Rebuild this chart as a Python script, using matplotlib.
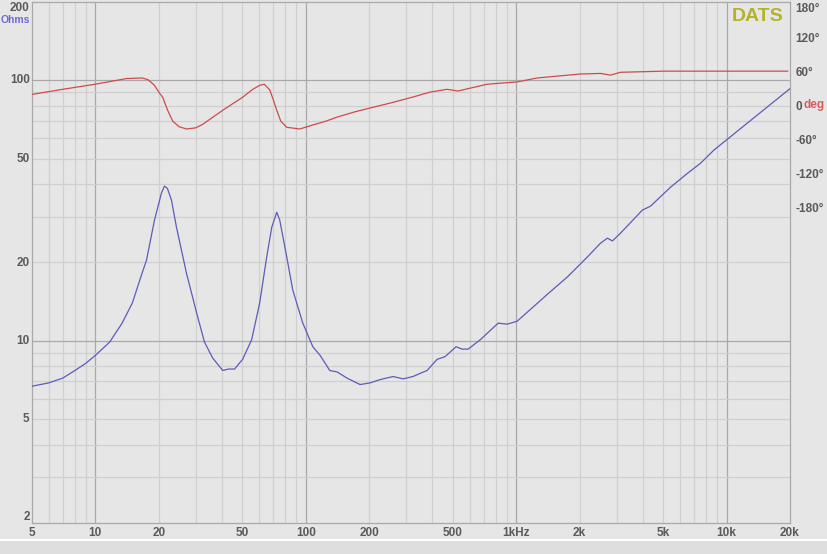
import numpy as np
import matplotlib
matplotlib.use("Agg")
import matplotlib.pyplot as plt
from matplotlib.patches import Rectangle

plt.rcParams['font.family'] = ['Liberation Sans', 'DejaVu Sans']

# impedance magnitude (ohms)
imp_freq = [5, 6, 7, 8, 9, 10, 11.7, 13.4, 15.0, 16.6, 17.5, 19.1, 20.6, 21.3, 22.0,
            23.0, 24.3, 27.1, 30.3, 33.0, 36.1, 40.3, 43, 45.9, 50.1, 55.3, 60.4,
            65.2, 68.9, 72.8, 75.2, 81.2, 86.7, 96.8, 108, 117, 130, 141, 157, 181,
            202, 225, 260, 290, 323, 349, 377, 421, 459, 518, 553, 591, 674, 821,
            906, 1010, 1167, 1406, 1750, 2178, 2512, 2712, 2865, 3127, 3981, 4345,
            5410, 6516, 7516, 8670, 20000]
imp_ohms = [6.7, 6.9, 7.2, 7.7, 8.2, 8.8, 9.9, 11.7, 14.0, 18.0, 20.4, 29.1, 36.9, 39.3, 38.5,
            34.7, 27.3, 18.2, 12.8, 9.9, 8.6, 7.7, 7.8, 7.8, 8.5, 10.1, 14.0,
            21.0, 27.3, 31.2, 29.1, 21.0, 15.7, 11.7, 9.5, 8.8, 7.7, 7.6, 7.2, 6.8,
            6.9, 7.1, 7.3, 7.15, 7.3, 7.5, 7.7, 8.5, 8.7, 9.5, 9.3, 9.3, 10.1, 11.7,
            11.6, 11.9, 13.2, 15.1, 17.6, 21.0, 23.7, 24.8, 24.2, 25.9, 31.8, 32.9,
            38.9, 44.0, 48.1, 53.9, 93]

# phase (degrees)
ph_freq = [5, 7, 10, 14.1, 16.7, 17.8, 19.1, 20.2, 20.9, 22, 23.3, 25, 27.1, 30, 32.3,
           40.3, 50.1, 56, 60.4, 63.5, 67.4, 70, 72.8, 76, 81.2, 93.6, 108, 125, 141,
           170, 202, 260, 320, 389, 469, 529, 728, 1010, 1259, 2018, 2512, 2806, 3127,
           5012, 19500]
ph_deg = [19, 28, 37, 47, 48, 45, 35, 21, 14, -8, -28, -38, -42, -40, -34,
          -9, 14, 28, 35, 37, 27, 10, -9, -28, -39, -42, -35, -28, -21,
          -12, -5, 5, 14, 23, 28, 25, 37, 41, 48, 55, 56, 53, 58,
          60, 60]

x_ticks = [5, 10, 20, 50, 100, 200, 500, 1000, 2000, 5000, 10000, 20000]
x_labels = ['5', '10', '20', '50', '100', '200', '500', '1kHz', '2k', '5k', '10k', '20k']
y_ticks = [200, 100, 50, 20, 10, 5, 2]
ph_ticks = [180, 120, 60, 0, -60, -120, -180]
ph_labels = ['180°', '120°', '60°', '0', '-60°', '-120°', '-180°']

bg = '#e6e6e6'
minor_c = '#cfcfcf'
major_c = '#a9a9a9'
txt_c = '#5a5a5a'
fs = 8.5

fig = plt.figure(figsize=(8.27, 5.54), dpi=100, facecolor=bg)
ax = fig.add_axes([32 / 827, 31 / 554, 758 / 827, 521 / 554])
ax.set_facecolor(bg)
ax.set_xscale('log')
ax.set_yscale('log')
ax.set_xlim(5, 20000)
ax.set_ylim(2, 200)

# grid lines
for dec in [1, 10, 100, 1000, 10000]:
    for m in range(1, 10):
        f = dec * m
        if f <= 5 or f >= 20000:
            continue
        ax.axvline(f, color=major_c if m == 1 else minor_c, lw=0.9, zorder=0)
for dec in [1, 10]:
    for m in range(1, 10):
        v = dec * m
        if v <= 2:
            continue
        ax.axhline(v, color=major_c if m == 1 else minor_c, lw=0.9, zorder=0)
ax.axhline(100, color=major_c, lw=0.9, zorder=0)

for s in ax.spines.values():
    s.set_color(major_c)
    s.set_linewidth(0.9)

ax.xaxis.set_major_locator(plt.FixedLocator(x_ticks))
ax.xaxis.set_major_formatter(plt.FixedFormatter(x_labels))
ax.xaxis.set_minor_locator(plt.NullLocator())
ax.tick_params(axis='x', length=0, pad=3, labelsize=fs, labelcolor=txt_c)
ax.yaxis.set_major_locator(plt.NullLocator())
ax.yaxis.set_minor_locator(plt.NullLocator())

ytr = ax.get_yaxis_transform()
for v in y_ticks:
    va = 'center'
    if v == 200:
        va = 'top'
    elif v == 2:
        va = 'bottom'
    ax.text(-0.003, v, str(v), transform=ytr, ha='right', va=va,
            fontsize=fs, color=txt_c, fontweight='bold')
ax.text(-0.002, 0.966, 'Ohms', transform=ax.transAxes, ha='right', va='center',
        fontsize=7.5, color='#6b6bd6', fontweight='bold')

for lab in ax.get_xticklabels():
    lab.set_fontweight('bold')

ax.plot(imp_freq, imp_ohms, color='#5c5cb8', lw=0.9, zorder=3)

# phase on its own scale, squeezed into the upper part
ax2 = ax.twinx()
ax2.set_ylim(-737, 182)
ax2.plot(ph_freq, ph_deg, color='#cc4c4c', lw=0.9, zorder=3)
ax2.set_yticks(ph_ticks)
labs = ax2.set_yticklabels(ph_labels)
labs[0].set_va('top')
ax2.tick_params(axis='y', length=0, pad=4, labelsize=fs, labelcolor=txt_c)
for lab in ax2.get_yticklabels():
    lab.set_fontweight('bold')
for s in ax2.spines.values():
    s.set_visible(False)
ax2.text(1.0175, 0, 'deg', transform=ax2.get_yaxis_transform(), ha='left', va='center',
         fontsize=8.5, color='#d85c5c', fontweight='bold')

ax.text(0.992, 0.972, 'DATS', transform=ax.transAxes, ha='right', va='center',
        fontsize=14, fontweight='bold', color='#b3b32a', zorder=5,
        bbox=dict(facecolor=bg, edgecolor='none', pad=1))

# bottom strip of the window
fig.add_artist(Rectangle((0, 0), 1, 13 / 554, transform=fig.transFigure,
                         facecolor='#dedede', edgecolor='none'))
fig.add_artist(Rectangle((0, 13 / 554), 1, 2 / 554, transform=fig.transFigure,
                         facecolor='white', edgecolor='none'))

fig.savefig('out.png', dpi=100, facecolor=bg)
